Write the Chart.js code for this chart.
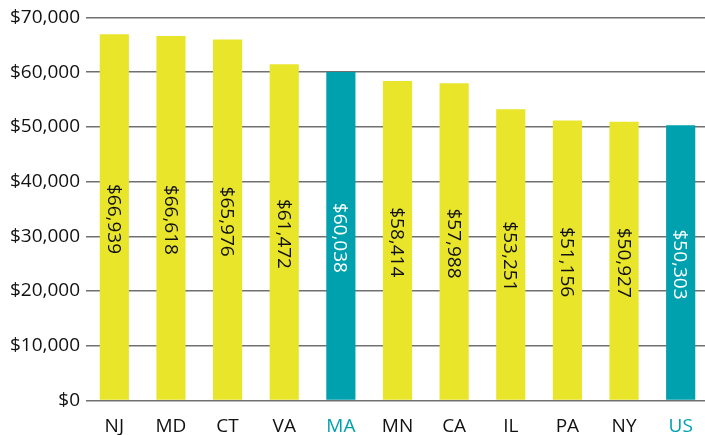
<!DOCTYPE html>
<html>
<head>
<meta charset="utf-8">
<script src="https://cdn.jsdelivr.net/npm/chart.js@4/dist/chart.umd.min.js"></script>
<style>
  html, body { margin: 0; padding: 0; background: #fff; overflow: hidden; }
  #wrap { width: 709px; height: 435px; position: relative; }
</style>
</head>
<body>
<div id="wrap"><canvas id="c"></canvas></div>
<script>
const categories = ["NJ", "MD", "CT", "VA", "MA", "MN", "CA", "IL", "PA", "NY", "US"];
const incomes = [66939, 66618, 65976, 61472, 60038, 58414, 57988, 53251, 51156, 50927, 50303];
const highlighted = ["MA", "US"];
const yTicks = [0, 10000, 20000, 30000, 40000, 50000, 60000, 70000];

const YELLOW = "#E9E52B";
const TEAL = "#00A1AF";
const FONT = "'Open Sans', 'Noto Sans', sans-serif";

const fmt = v => "$" + v.toLocaleString("en-US");

const barColors = categories.map(c => highlighted.includes(c) ? TEAL : YELLOW);
const labelColors = categories.map(c => highlighted.includes(c) ? "#ffffff" : "#111111");
const xLabelColors = categories.map(c => highlighted.includes(c) ? TEAL : "#111111");

const valueLabels = {
  id: "valueLabels",
  afterDatasetsDraw(chart) {
    const ctx = chart.ctx;
    const meta = chart.getDatasetMeta(0);
    ctx.save();
    ctx.font = "19px " + FONT;
    ctx.textAlign = "center";
    ctx.textBaseline = "middle";
    meta.data.forEach((bar, i) => {
      const cy = (bar.y + bar.base) / 2 + 2;
      ctx.save();
      ctx.translate(bar.x - 1, cy);
      ctx.rotate(Math.PI / 2);
      ctx.fillStyle = labelColors[i];
      ctx.fillText(fmt(incomes[i]), 0, 0);
      ctx.restore();
    });
    ctx.restore();
  }
};

new Chart(document.getElementById("c"), {
  type: "bar",
  data: {
    labels: categories,
    datasets: [{
      data: incomes,
      backgroundColor: barColors,
      borderWidth: 0,
      categoryPercentage: 1,
      barPercentage: 0.515
    }]
  },
  options: {
    responsive: true,
    maintainAspectRatio: false,
    animation: false,
    layout: { padding: { top: 17.5, right: 0, bottom: 0, left: 0 } },
    plugins: { legend: { display: false }, tooltip: { enabled: false } },
    scales: {
      x: {
        afterFit(scale) { scale.height = 34.5; },
        grid: { display: false, drawTicks: false },
        border: { display: false },
        ticks: {
          color: xLabelColors,
          font: { family: FONT, size: 19 },
          padding: 15,
          maxRotation: 0
        }
      },
      y: {
        min: 0,
        max: 70000,
        afterFit(scale) { scale.width = 86; },
        afterBuildTicks(scale) { scale.ticks = yTicks.map(v => ({ value: v })); },
        grid: { color: "#707070", lineWidth: 1.6, drawTicks: false },
        border: { display: false },
        ticks: {
          color: "#111111",
          font: { family: FONT, size: 19 },
          padding: 6,
          callback: v => fmt(v)
        }
      }
    }
  },
  plugins: [valueLabels]
});
</script>
</body>
</html>
